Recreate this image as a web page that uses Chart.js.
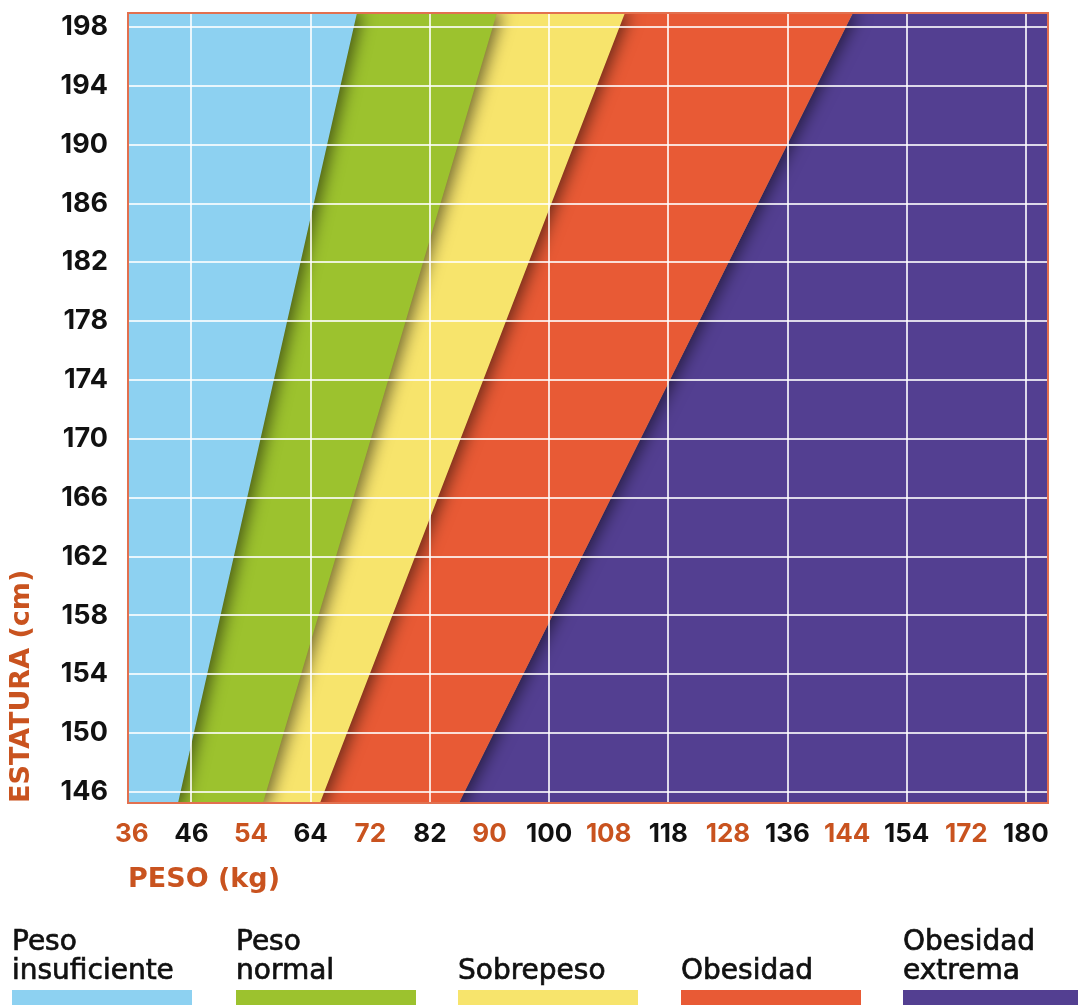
<!DOCTYPE html>
<html>
<head>
<meta charset="utf-8">
<script src="https://cdn.jsdelivr.net/npm/chart.js@4.4.1/dist/chart.umd.min.js"></script>
<style>
  html, body { margin: 0; padding: 0; background: #fff; width: 1078px; height: 1005px; overflow: hidden; }
  #wrap { position: absolute; left: 0; top: 0; width: 1078px; height: 910px; }
  #leyenda { position: absolute; left: 0; top: 900px; width: 1078px; height: 105px; }
  .item { position: absolute; bottom: 0; height: 105px; display: flex; flex-direction: column; justify-content: flex-end; }
  .txt { font-family: "DejaVu Sans", sans-serif; font-size: 28px; line-height: 29px; color: #111; -webkit-text-stroke: 0.7px #111; margin-bottom: 6px; white-space: nowrap; }
  .barra { height: 15px; }
</style>
</head>
<body>
<div id="wrap"><canvas id="c"></canvas></div>
<div id="leyenda"></div>
<script>
// ---- Data ----
// Height tick labels (cm)
const alturas = [146, 150, 154, 158, 162, 166, 170, 174, 178, 182, 186, 190, 194, 198];
// Weight tick labels (kg), evenly spaced along the axis
const pesos = ['36', '46', '54', '64', '72', '82', '90', '100', '108', '118', '128', '136', '144', '154', '172', '180'];
// Heights at which each boundary is read (bottom and top edges of the plot)
const alturaBordes = [145, 199];
// Boundary position along the weight axis (in weight-tick positions) at those heights
const limInsuficiente = [0.760, 3.779];
const limNormal = [2.181, 6.128];
const limSobrepeso = [3.132, 8.277];
const limObesidad = [5.457, 12.102];
// Categories
const categorias = ['Peso insuficiente', 'Peso normal', 'Sobrepeso', 'Obesidad', 'Obesidad extrema'];
const lineasLeyenda = [['Peso', 'insuficiente'], ['Peso', 'normal'], ['Sobrepeso'], ['Obesidad'], ['Obesidad', 'extrema']];
const colores = ['#8DD1F1', '#9CC22E', '#F7E46C', '#E85A35', '#533F91'];
const colorTicks = ['#C9531F', '#111111'];

// ---- Axis ranges ----
const X_MIN = -0.065, X_MAX = 15.37, Y_MIN = 145.25, Y_MAX = 198.95;

const limites = [limInsuficiente, limNormal, limSobrepeso, limObesidad, limObesidad];
const puntos = lim => alturaBordes.map((h, i) => ({ x: lim[i], y: h }));

const datasets = categorias.map((c, i) => ({
  label: c,
  data: puntos(limites[i]),
  backgroundColor: colores[i],
  borderColor: colores[i],
  borderWidth: 0,
  pointRadius: 0,
  pointHoverRadius: 0,
  tension: 0,
  fill: { value: i === categorias.length - 1 ? X_MAX : X_MIN }
}));

const sombra = {
  id: 'sombra',
  beforeDatasetsDraw(chart) {
    const c = chart.ctx;
    c.save();
    c.shadowColor = 'rgba(0,0,0,0.55)';
    c.shadowBlur = 16;
    c.shadowOffsetX = 5;
    c.shadowOffsetY = 0;
  },
  afterDatasetsDraw(chart) { chart.ctx.restore(); }
};

const marco = {
  id: 'marco',
  afterDraw(chart) {
    const { ctx, chartArea: a } = chart;
    ctx.save();
    ctx.strokeStyle = '#E2704F';
    ctx.lineWidth = 2;
    ctx.strokeRect(a.left, a.top, a.right - a.left, a.bottom - a.top);
    ctx.restore();
  }
};

new Chart(document.getElementById('c'), {
  type: 'line',
  data: { datasets },
  plugins: [sombra, marco],
  options: {
    indexAxis: 'y',
    responsive: true,
    maintainAspectRatio: false,
    animation: false,
    layout: { padding: { top: 13, right: 30, bottom: 0, left: 0 } },
    plugins: {
      legend: { display: false },
      tooltip: { enabled: false },
      filler: { propagate: false }
    },
    scales: {
      x: {
        type: 'linear',
        min: X_MIN,
        max: X_MAX,
        afterBuildTicks: s => { s.ticks = pesos.map((p, i) => ({ value: i })); },
        afterFit: s => { s.height = 107; s.paddingLeft = 0; s.paddingRight = 0; },
        ticks: {
          autoSkip: false,
          maxRotation: 0,
          padding: 16,
          font: { family: 'Inter', size: 26, weight: 'bold' },
          color: c => colorTicks[c.index % 2],
          callback: (v, i) => pesos[i]
        },
        grid: {
          z: 1,
          drawTicks: false,
          lineWidth: 2,
          color: c => (c.index % 2 === 1 ? 'rgba(255,255,255,0.8)' : 'rgba(0,0,0,0)')
        },
        border: { display: false },
        title: {
          display: true,
          text: 'PESO (kg)',
          align: 'start',
          color: '#C9531F',
          font: { family: 'DejaVu Sans', size: 27, weight: 'bold' },
          padding: { top: 0, bottom: 14 }
        }
      },
      y: {
        type: 'linear',
        min: Y_MIN,
        max: Y_MAX,
        afterBuildTicks: s => { s.ticks = alturas.map(v => ({ value: v })); },
        afterFit: s => { s.width = 128; s.paddingTop = 0; s.paddingBottom = 0; },
        ticks: {
          padding: 20,
          font: { family: 'Inter', size: 27, weight: 'bold' },
          color: '#111111',
          callback: v => String(v)
        },
        grid: { z: 1, drawTicks: false, lineWidth: 2, color: 'rgba(255,255,255,0.8)' },
        border: { display: false },
        title: {
          display: true,
          text: 'ESTATURA (cm)',
          align: 'start',
          color: '#C9531F',
          font: { family: 'DejaVu Sans', size: 27, weight: 'bold' },
          padding: { top: 6, bottom: 0 }
        }
      }
    }
  }
});

// ---- HTML legend (text above a colour bar) ----
const leyendaX = [12, 236, 458, 681, 903];
const ley = document.getElementById('leyenda');
categorias.forEach((c, i) => {
  const it = document.createElement('div');
  it.className = 'item';
  it.style.left = leyendaX[i] + 'px';
  it.style.width = '180px';
  const t = document.createElement('div');
  t.className = 'txt';
  lineasLeyenda[i].forEach((l, k) => {
    if (k) t.appendChild(document.createElement('br'));
    t.appendChild(document.createTextNode(l));
  });
  const b = document.createElement('div');
  b.className = 'barra';
  b.style.background = colores[i];
  it.appendChild(t);
  it.appendChild(b);
  ley.appendChild(it);
});
</script>
</body>
</html>
